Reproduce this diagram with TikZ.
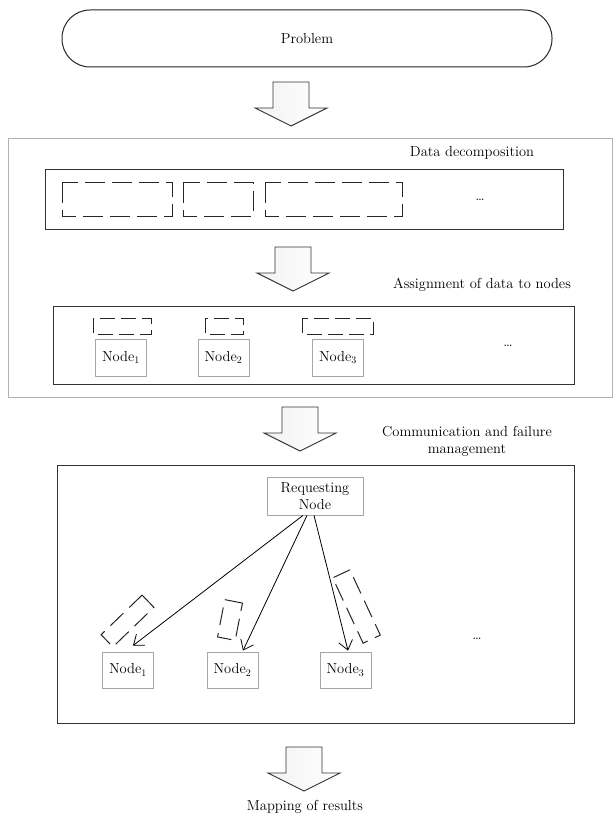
\documentclass[tikz,border=0pt]{standalone}
\usetikzlibrary{arrows.meta}
\begin{document}
\begin{tikzpicture}[x=1pt,y=-1pt,
  font=\fontsize{14.5}{17}\selectfont,
  bigbox/.style={draw=#1, line width=1pt, inner sep=0pt},
  nodebox/.style={draw=gray!70, line width=0.8pt, inner sep=0pt, minimum width=51pt, minimum height=37pt},
  dbox/.style={draw=black!85, line width=1pt, dash pattern=on 20pt off 7pt},
  sdbox/.style={draw=black!85, line width=1pt, dash pattern=on 15pt off 6pt},
  rdbox/.style={draw=black!85, line width=1pt, dash pattern=on 18pt off 8pt, inner sep=0pt},
  conn/.style={-{Straight Barb[length=9pt,width=14pt]}, line width=0.8pt},
  lbl/.style={align=center, inner sep=0pt},
  blockarrow/.pic={
    \draw[draw=black!80, line width=0.9pt, left color=gray!10, right color=white, line join=miter]
      (0,0) -- (-36,-18) -- (-18,-18) -- (-18,-44) -- (18,-44) -- (18,-18) -- (36,-18) -- cycle;
  }]
\useasboundingbox (0,0) rectangle (614,821);

% Problem
\node[draw=black!85, line width=1pt, rounded corners=28pt, minimum width=490pt, minimum height=57pt, inner sep=0pt] (problem) at (307,38.5) {Problem};

\pic at (291,126) {blockarrow};

% outer gray box
\node[bigbox=gray!60, minimum width=604pt, minimum height=258pt] (outer) at (310,268) {};
\node[lbl] (ddlabel) at (472,153) {Data decomposition};

% data decomposition row
\node[bigbox=black!80, minimum width=518pt, minimum height=59pt] (databox) at (304,199.5) {};
\draw[dbox] (62,183) rectangle (172,216);
\draw[dbox] (183,183) rectangle (253,216);
\draw[dbox] (265,183) rectangle (402,216);
\node[lbl] (dots1) at (480,200) {\dots};

\pic at (293,291) {blockarrow};
\node[lbl] (aslabel) at (482,285) {Assignment of data to nodes};

% assignment row
\node[bigbox=black!80, minimum width=521pt, minimum height=78pt] (assignbox) at (313.5,345.5) {};
\draw[sdbox] (93,318) rectangle (151,334);
\draw[sdbox] (205,318) rectangle (243,334);
\draw[sdbox] (302,318) rectangle (373,334);
\node[nodebox] (a1) at (121,357.5) {Node$_1$};
\node[nodebox] (a2) at (223.5,357.5) {Node$_2$};
\node[nodebox] (a3) at (338,357.5) {Node$_3$};
\node[lbl] (dots2) at (508,346) {\dots};

\pic at (300,451) {blockarrow};
\node[lbl] (cmlabel) at (467,441) {Communication and failure\\management};

% communication box
\node[bigbox=black!80, minimum width=517pt, minimum height=258pt] (commbox) at (315.5,594) {};
\node[nodebox, minimum width=96pt, minimum height=38pt, align=center] (req) at (315,496) {Requesting\\Node};
\node[nodebox, minimum height=36pt] (n1) at (128,670) {Node$_1$};
\node[nodebox, minimum height=36pt] (n2) at (232.5,670) {Node$_2$};
\node[nodebox, minimum height=36pt] (n3) at (345.5,670) {Node$_3$};
\node[lbl] (dots3) at (477,639) {\dots};

\node[rdbox, minimum width=57pt, minimum height=17pt, rotate=44] (r1) at (127.5,621) {};
\node[rdbox, minimum width=18pt, minimum height=38pt, rotate=-11] (r2) at (230,620) {};
\node[rdbox, minimum width=19pt, minimum height=72pt, rotate=25] (r3) at (356.5,606.5) {};

\draw[conn] ([xshift=-12pt]req.south) -- ([xshift=5pt,yshift=6pt]n1.north);
\draw[conn] ([xshift=-8pt]req.south) -- ([xshift=10.5pt,yshift=1pt]n2.north);
\draw[conn] ([xshift=-1pt]req.south) -- ([xshift=2.5pt,yshift=1pt]n3.north);

\pic at (304,791) {blockarrow};
\node[lbl] (mrlabel) at (305,807) {Mapping of results};
\end{tikzpicture}
\end{document}
